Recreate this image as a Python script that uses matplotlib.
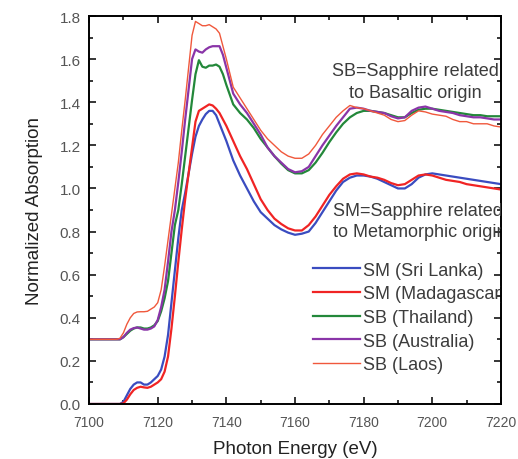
import numpy as np
import matplotlib
matplotlib.use("Agg")
import matplotlib.pyplot as plt
from matplotlib.ticker import MultipleLocator, FormatStrFormatter

plt.rcParams['font.family'] = ['Liberation Sans', 'DejaVu Sans']

# photon energy grid (eV)
energy = [7100, 7105, 7108,
          7109, 7110, 7111, 7112, 7113, 7114, 7115, 7116, 7117, 7118, 7119, 7120,
          7121, 7122, 7123, 7124, 7125, 7126, 7127, 7128, 7129, 7130,
          7131, 7132, 7133, 7134, 7135, 7136, 7137, 7138, 7139, 7140,
          7142, 7144, 7146, 7148, 7150, 7152, 7154, 7156, 7158, 7160,
          7162, 7164, 7166, 7168, 7170, 7172, 7174, 7176, 7178, 7180,
          7182, 7184, 7186, 7188, 7190, 7192, 7194, 7196, 7198, 7200,
          7202, 7204, 7206, 7208, 7210, 7212, 7214, 7216, 7218, 7220]

sm_srilanka = [0.0, 0.0, 0.0,
               0.0, 0.01, 0.04, 0.07, 0.09, 0.10, 0.10, 0.09, 0.09, 0.10, 0.115, 0.13,
               0.16, 0.22, 0.32, 0.47, 0.62, 0.77, 0.90, 0.98, 1.07, 1.16,
               1.24, 1.29, 1.32, 1.345, 1.36, 1.36, 1.34, 1.30, 1.26, 1.22,
               1.13, 1.06, 1.00, 0.94, 0.89, 0.86, 0.83, 0.81, 0.795, 0.785,
               0.79, 0.80, 0.84, 0.89, 0.94, 0.99, 1.03, 1.05, 1.06, 1.06,
               1.055, 1.045, 1.03, 1.015, 1.00, 1.00, 1.02, 1.05, 1.065, 1.07,
               1.065, 1.06, 1.055, 1.05, 1.045, 1.04, 1.035, 1.03, 1.025, 1.02]

sm_madagascar = [0.0, 0.0, 0.0,
                 0.0, 0.003, 0.02, 0.045, 0.065, 0.075, 0.08, 0.077, 0.075, 0.08, 0.09, 0.10,
                 0.115, 0.15, 0.22, 0.35, 0.50, 0.66, 0.81, 0.95, 1.07, 1.19,
                 1.31, 1.36, 1.37, 1.38, 1.39, 1.385, 1.37, 1.35, 1.32, 1.29,
                 1.22, 1.15, 1.09, 1.02, 0.95, 0.90, 0.86, 0.835, 0.815, 0.805,
                 0.805, 0.83, 0.87, 0.92, 0.97, 1.01, 1.045, 1.065, 1.07, 1.065,
                 1.055, 1.05, 1.04, 1.025, 1.015, 1.02, 1.04, 1.06, 1.065, 1.06,
                 1.05, 1.04, 1.035, 1.03, 1.02, 1.015, 1.01, 1.005, 1.00, 0.995]

sb_thailand = [0.30, 0.30, 0.30,
               0.30, 0.31, 0.325, 0.34, 0.35, 0.355, 0.355, 0.35, 0.35, 0.355, 0.365, 0.385,
               0.43, 0.49, 0.57, 0.70, 0.83, 0.90, 1.02, 1.15, 1.28, 1.41,
               1.53, 1.595, 1.565, 1.56, 1.57, 1.57, 1.575, 1.565, 1.53, 1.48,
               1.39, 1.35, 1.32, 1.28, 1.23, 1.19, 1.15, 1.115, 1.085, 1.07,
               1.07, 1.085, 1.12, 1.165, 1.215, 1.26, 1.30, 1.33, 1.35, 1.36,
               1.36, 1.355, 1.35, 1.34, 1.33, 1.33, 1.35, 1.365, 1.37, 1.37,
               1.365, 1.36, 1.355, 1.35, 1.345, 1.34, 1.34, 1.335, 1.335, 1.335]

sb_australia = [0.30, 0.30, 0.30,
                0.30, 0.31, 0.33, 0.345, 0.352, 0.355, 0.35, 0.345, 0.345, 0.35, 0.36, 0.39,
                0.45, 0.53, 0.66, 0.80, 0.90, 1.03, 1.17, 1.32, 1.46, 1.60,
                1.645, 1.635, 1.63, 1.645, 1.655, 1.66, 1.66, 1.66, 1.62, 1.56,
                1.44, 1.39, 1.35, 1.30, 1.25, 1.19, 1.15, 1.12, 1.09, 1.075,
                1.08, 1.10, 1.15, 1.20, 1.245, 1.29, 1.33, 1.37, 1.375, 1.37,
                1.36, 1.355, 1.35, 1.335, 1.325, 1.33, 1.36, 1.375, 1.38, 1.37,
                1.36, 1.355, 1.35, 1.34, 1.335, 1.33, 1.33, 1.325, 1.32, 1.32]

sb_laos = [0.30, 0.30, 0.30,
           0.305, 0.33, 0.37, 0.40, 0.42, 0.427, 0.428, 0.428, 0.43, 0.44, 0.45, 0.47,
           0.53, 0.64, 0.76, 0.88, 1.00, 1.12, 1.27, 1.41, 1.56, 1.71,
           1.775, 1.765, 1.755, 1.755, 1.76, 1.75, 1.74, 1.72, 1.66, 1.60,
           1.47, 1.42, 1.37, 1.32, 1.27, 1.23, 1.20, 1.17, 1.15, 1.14,
           1.14, 1.16, 1.20, 1.25, 1.29, 1.33, 1.36, 1.385, 1.375, 1.37,
           1.36, 1.35, 1.34, 1.32, 1.31, 1.315, 1.34, 1.36, 1.355, 1.345,
           1.34, 1.335, 1.32, 1.31, 1.31, 1.30, 1.30, 1.30, 1.29, 1.285]

labels = ["SM (Sri Lanka)", "SM (Madagascar)", "SB (Thailand)",
          "SB (Australia)", "SB (Laos)"]

fig = plt.figure(figsize=(5.18, 4.60), dpi=100)
ax = fig.add_axes([0.172, 0.1196, 0.795, 0.8434])

ax.plot(energy, sm_srilanka, color="#3a4cc0", lw=1.6, label=labels[0])
ax.plot(energy, sm_madagascar, color="#f02424", lw=1.6, label=labels[1])
ax.plot(energy, sb_thailand, color="#23883a", lw=1.6, label=labels[2])
ax.plot(energy, sb_australia, color="#8a35a8", lw=1.6, label=labels[3])
ax.plot(energy, sb_laos, color="#f0583c", lw=1.0, label=labels[4])

ax.set_xlim(7100, 7220)
ax.set_ylim(0, 1.8)
ax.xaxis.set_major_locator(MultipleLocator(20))
ax.xaxis.set_minor_locator(MultipleLocator(10))
ax.yaxis.set_major_locator(MultipleLocator(0.2))
ax.yaxis.set_minor_locator(MultipleLocator(0.1))
ax.yaxis.set_major_formatter(FormatStrFormatter("%.1f"))

ax.tick_params(which="both", direction="in", top=True, right=True, width=1.1)
ax.tick_params(which="major", length=5)
ax.tick_params(which="minor", length=3)
ax.tick_params(axis="x", labelsize=10, labelcolor="#555555", pad=8)
ax.tick_params(axis="y", labelsize=11, labelcolor="#555555", pad=6)
for s in ax.spines.values():
    s.set_linewidth(1.4)

ax.set_xlabel("Photon Energy (eV)", fontsize=13.5, color="#222222", labelpad=8)
ax.set_ylabel("Normalized Absorption", fontsize=13.5, color="#222222", labelpad=12)

ax.text(7195, 1.495, "SB=Sapphire related\nto Basaltic origin", fontsize=13,
        color="#3c3c3c", ha="center", va="center", linespacing=1.35)
ax.text(7171, 0.85, "SM=Sapphire related\nto Metamorphic origin", fontsize=13,
        color="#3c3c3c", ha="left", va="center", linespacing=1.3, clip_on=True)

leg = ax.legend(loc="upper left", bbox_to_anchor=(0.544, 0.367), frameon=False,
                fontsize=13, handlelength=2.6, handletextpad=0.15,
                labelspacing=0.37, borderpad=0, borderaxespad=0)
for t in leg.get_texts():
    t.set_color("#3c3c3c")
    t.set_clip_box(ax.bbox)
    t.set_clip_on(True)

plt.savefig("out.png", dpi=100)
